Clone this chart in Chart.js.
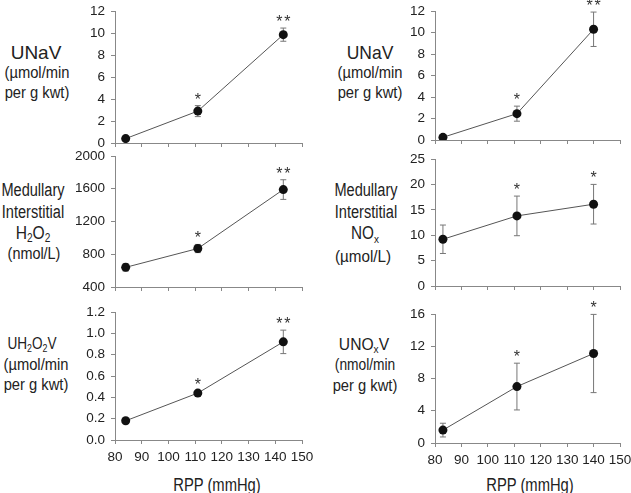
<!DOCTYPE html>
<html>
<head>
<meta charset="utf-8">
<script src="https://cdn.jsdelivr.net/npm/chart.js@4"></script>
<style>
  body { margin: 0; background: #fff; overflow: hidden; width: 631px; height: 493px; position: relative;
         font-family: "Liberation Sans", Arial, sans-serif; color: #222; }
  .pane { position: absolute; }
  .lbl { position: absolute; white-space: nowrap; line-height: 1;
         transform: translate(-50%, -50%) scaleX(var(--sx, 1)); }
  .lbl sub { font-size: 0.65em; vertical-align: -0.3em; line-height: 0; }
</style>
</head>
<body>

<!-- axis titles, left column -->
<div class="lbl" style="left:36px;top:52px;font-size:19px">UNaV</div>
<div class="lbl" style="left:37px;top:73px;font-size:16px;--sx:.92">(µmol/min</div>
<div class="lbl" style="left:37px;top:93px;font-size:16px;--sx:.92">per g kwt)</div>

<div class="lbl" style="left:33px;top:190px;font-size:18px;--sx:.81">Medullary</div>
<div class="lbl" style="left:33px;top:212px;font-size:18px;--sx:.81">Interstitial</div>
<div class="lbl" style="left:33px;top:232px;font-size:19px;--sx:.82">H<sub>2</sub>O<sub>2</sub></div>
<div class="lbl" style="left:34px;top:254px;font-size:16px;--sx:.9">(nmol/L)</div>

<div class="lbl" style="left:32px;top:343px;font-size:17px;--sx:.8">UH<sub>2</sub>O<sub>2</sub>V</div>
<div class="lbl" style="left:36px;top:365px;font-size:16px;--sx:.92">(µmol/min</div>
<div class="lbl" style="left:36px;top:385px;font-size:16px;--sx:.92">per g kwt)</div>

<!-- axis titles, right column -->
<div class="lbl" style="left:370px;top:52px;font-size:19px;--sx:.92">UNaV</div>
<div class="lbl" style="left:370px;top:73px;font-size:16px;--sx:.92">(µmol/min</div>
<div class="lbl" style="left:370px;top:93px;font-size:16px;--sx:.92">per g kwt)</div>

<div class="lbl" style="left:366px;top:190px;font-size:18px;--sx:.81">Medullary</div>
<div class="lbl" style="left:366px;top:212px;font-size:18px;--sx:.81">Interstitial</div>
<div class="lbl" style="left:365px;top:233px;font-size:18px;--sx:.85">NO<sub>x</sub></div>
<div class="lbl" style="left:363px;top:257px;font-size:16px;--sx:.95">(µmol/L)</div>

<div class="lbl" style="left:364px;top:344px;font-size:17px;--sx:.92">UNO<sub>x</sub>V</div>
<div class="lbl" style="left:365px;top:365px;font-size:16px;--sx:.86">(nmol/min</div>
<div class="lbl" style="left:365px;top:386px;font-size:16px;--sx:.92">per g kwt)</div>

<!-- x axis titles -->
<div class="lbl" style="left:217px;top:485px;font-size:18px;--sx:.82">RPP (mmHg)</div>
<div class="lbl" style="left:530px;top:485px;font-size:18px;--sx:.82">RPP (mmHg)</div>

<div class="pane" style="left:60px;top:0px"><canvas id="lt" width="257" height="151"></canvas></div>
<div class="pane" style="left:60px;top:140px"><canvas id="lm" width="257" height="155"></canvas></div>
<div class="pane" style="left:60px;top:290px"><canvas id="lb" width="257" height="175"></canvas></div>
<div class="pane" style="left:380px;top:0px"><canvas id="rt" width="255" height="148"></canvas></div>
<div class="pane" style="left:380px;top:140px"><canvas id="rm" width="255" height="154"></canvas></div>
<div class="pane" style="left:380px;top:290px"><canvas id="rb" width="255" height="178"></canvas></div>

<script>
// renal perfusion pressure (mmHg)
const rppLeft = [84, 111, 143];
const rppRight = [83, 111, 140];

// left column
const unavLeft = [0.4, 2.9, 9.85];
const unavLeftErr = [0.15, 0.5, 0.6];
const h2o2 = [640, 870, 1590];
const h2o2Err = [45, 50, 120];
const uh2o2v = [0.18, 0.44, 0.92];
const uh2o2vErr = [0.01, 0.015, 0.11];

// right column
const unavRight = [0.25, 2.45, 10.3];
const unavRightErr = [0.1, 0.7, 1.6];
const nox = [9.2, 13.8, 16.1];
const noxErr = [2.8, 3.9, 3.9];
const unoxv = [1.6, 7.0, 11.1];
const unoxvErr = [0.85, 2.9, 4.85];

const starsTwo = ['', '*', '**'];
const starsOne = ['', '*', '*'];

const xTicks = [80, 90, 100, 110, 120, 130, 140, 150];

Chart.defaults.font.family = '"Liberation Sans", Arial, sans-serif';
Chart.defaults.color = '#222';

// error bars + significance stars, drawn through the chart's own scales
const errorBars = {
    id: 'errorBars',
    beforeDatasetsDraw(chart, args, opts) {
        const ctx = chart.ctx;
        const xs = chart.scales.x, ys = chart.scales.y;
        ctx.save();
        ctx.strokeStyle = '#777';
        ctx.lineWidth = 1;
        opts.values.forEach((v, i) => {
            const x = xs.getPixelForValue(opts.xs[i]);
            const top = ys.getPixelForValue(v + opts.errs[i]);
            const bot = ys.getPixelForValue(v - opts.errs[i]);
            ctx.beginPath();
            ctx.moveTo(x, top); ctx.lineTo(x, bot);
            ctx.moveTo(x - 3, top); ctx.lineTo(x + 3, top);
            ctx.moveTo(x - 3, bot); ctx.lineTo(x + 3, bot);
            ctx.stroke();
        });
        ctx.restore();
    },
    afterDatasetsDraw(chart, args, opts) {
        const ctx = chart.ctx;
        const xs = chart.scales.x, ys = chart.scales.y;
        ctx.save();
        ctx.fillStyle = '#333';
        ctx.font = '16px "Liberation Sans", Arial, sans-serif';
        ctx.textAlign = 'center';
        ctx.textBaseline = 'alphabetic';
        opts.values.forEach((v, i) => {
            const s = opts.stars[i];
            if (!s) return;
            const x = xs.getPixelForValue(opts.xs[i]);
            const y = ys.getPixelForValue(v + opts.errs[i]) - 1;
            if (s.length === 1) {
                ctx.fillText('*', x, y);
            } else {
                ctx.fillText('*', x - 4, y);
                ctx.fillText('*', x + 4, y);
            }
        });
        ctx.restore();
    }
};

function makePanel(id, xs, values, errs, stars, yMin, yMax, yStep, padTop, showX, decimals) {
    const ctx = document.getElementById(id).getContext('2d');
    const pts = xs.map((x, i) => ({ x: x, y: values[i] }));
    return new Chart(ctx, {
        type: 'scatter',
        data: {
            datasets: [{
                data: pts,
                showLine: true,
                borderColor: '#555',
                borderWidth: 1,
                pointRadius: 4.5,
                pointBackgroundColor: '#111',
                pointBorderColor: '#111',
                pointBorderWidth: 0
            }]
        },
        options: {
            responsive: false,
            animation: false,
            devicePixelRatio: 1,
            layout: { padding: { top: padTop, right: 15, left: 0, bottom: 0 } },
            scales: {
                x: {
                    type: 'linear',
                    min: 80,
                    max: 150,
                    afterBuildTicks: s => { s.ticks = xTicks.map(v => ({ value: v })); },
                    ticks: {
                        display: showX, padding: 5, font: { size: 13.5 }, color: '#222',
                        maxRotation: 0, minRotation: 0, autoSkip: false
                    },
                    grid: { drawOnChartArea: false, drawTicks: true, tickLength: 4, color: '#888' },
                    border: { color: '#888', width: 1 },
                    afterFit: s => { s.height = showX ? 25 : 8; s.paddingLeft = 0; s.paddingRight = 0; }
                },
                y: {
                    min: yMin,
                    max: yMax,
                    ticks: {
                        stepSize: yStep,
                        padding: 6,
                        font: { size: 13.5 },
                        color: '#222',
                        callback: v => v.toFixed(decimals)
                    },
                    grid: { drawOnChartArea: false, drawTicks: true, tickLength: 4, color: '#888' },
                    border: { color: '#888', width: 1 },
                    afterFit: s => { s.width = 55; s.paddingTop = 0; s.paddingBottom = 0; }
                }
            },
            plugins: {
                legend: { display: false },
                tooltip: { enabled: false },
                errorBars: { xs: xs, values: values, errs: errs, stars: stars }
            }
        },
        plugins: [errorBars]
    });
}

makePanel('lt', rppLeft, unavLeft, unavLeftErr, starsTwo, 0, 12, 2, 11, false, 0);
makePanel('lm', rppLeft, h2o2, h2o2Err, starsTwo, 400, 2000, 400, 16, false, 0);
makePanel('lb', rppLeft, uh2o2v, uh2o2vErr, starsTwo, 0, 1.2, 0.2, 22, true, 1);
makePanel('rt', rppRight, unavRight, unavRightErr, starsTwo, 0, 12, 2, 11, false, 0);
makePanel('rm', rppRight, nox, noxErr, starsOne, 0, 25, 5, 19, false, 0);
makePanel('rb', rppRight, unoxv, unoxvErr, starsOne, 0, 16, 4, 24, true, 0);
</script>
</body>
</html>
